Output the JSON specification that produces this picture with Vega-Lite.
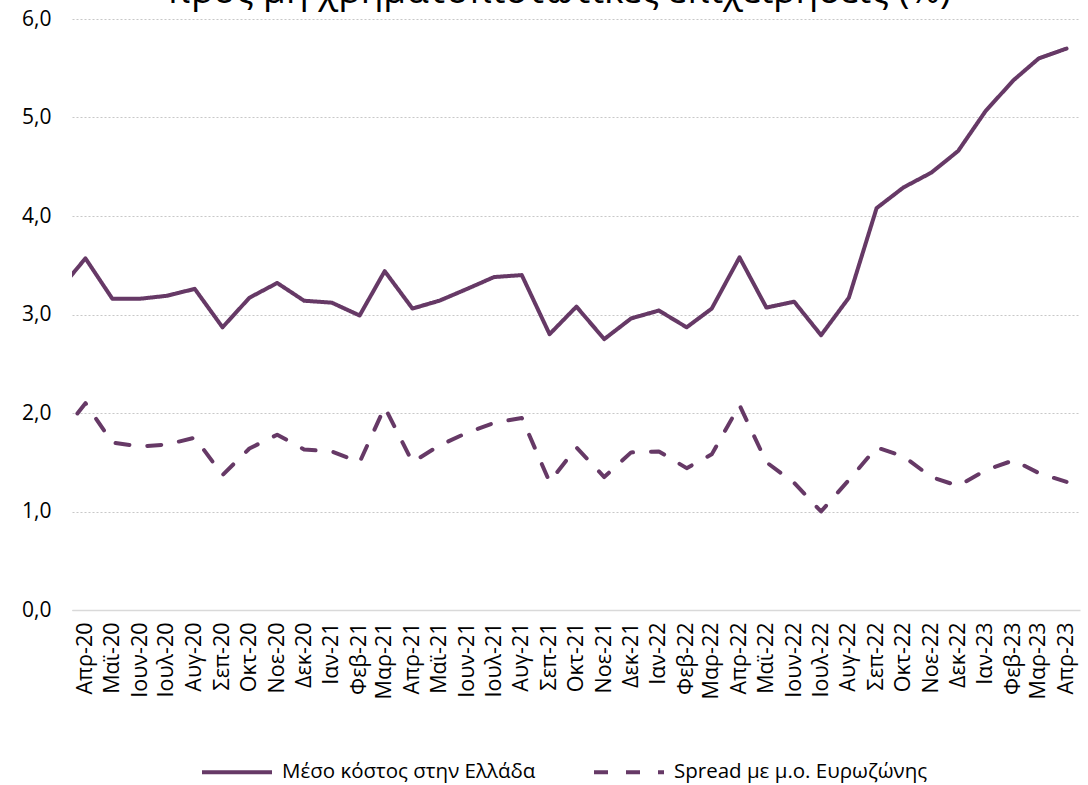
{
  "$schema": "https://vega.github.io/schema/vega-lite/v6.json",
  "autosize": {"type": "none"},
  "width": 1008,
  "height": 591,
  "padding": {"left": 72, "top": 19, "right": 8, "bottom": 175},
  "background": "white",
  "title": {
    "text": "προς μη χρηματοπιστωτικές επιχειρήσεις (%)",
    "fontSize": 37,
    "font": "Open Sans",
    "fontWeight": "normal",
    "color": "#000000",
    "anchor": "middle",
    "frame": "group",
    "baseline": "alphabetic",
    "offset": 2,
    "dx": -17,
    "dy": 34
  },
  "config": {
    "view": {"stroke": null},
    "font": "Open Sans"
  },
  "data": {
    "values": [
      {"date": "2020-03-01", "series": "Μέσο κόστος στην Ελλάδα", "value": 3.23},
      {"date": "2020-04-01", "series": "Μέσο κόστος στην Ελλάδα", "value": 3.57},
      {"date": "2020-05-01", "series": "Μέσο κόστος στην Ελλάδα", "value": 3.16},
      {"date": "2020-06-01", "series": "Μέσο κόστος στην Ελλάδα", "value": 3.16},
      {"date": "2020-07-01", "series": "Μέσο κόστος στην Ελλάδα", "value": 3.19},
      {"date": "2020-08-01", "series": "Μέσο κόστος στην Ελλάδα", "value": 3.26},
      {"date": "2020-09-01", "series": "Μέσο κόστος στην Ελλάδα", "value": 2.87},
      {"date": "2020-10-01", "series": "Μέσο κόστος στην Ελλάδα", "value": 3.17},
      {"date": "2020-11-01", "series": "Μέσο κόστος στην Ελλάδα", "value": 3.32},
      {"date": "2020-12-01", "series": "Μέσο κόστος στην Ελλάδα", "value": 3.14},
      {"date": "2021-01-01", "series": "Μέσο κόστος στην Ελλάδα", "value": 3.12},
      {"date": "2021-02-01", "series": "Μέσο κόστος στην Ελλάδα", "value": 2.99},
      {"date": "2021-03-01", "series": "Μέσο κόστος στην Ελλάδα", "value": 3.44},
      {"date": "2021-04-01", "series": "Μέσο κόστος στην Ελλάδα", "value": 3.06},
      {"date": "2021-05-01", "series": "Μέσο κόστος στην Ελλάδα", "value": 3.14},
      {"date": "2021-06-01", "series": "Μέσο κόστος στην Ελλάδα", "value": 3.26},
      {"date": "2021-07-01", "series": "Μέσο κόστος στην Ελλάδα", "value": 3.38},
      {"date": "2021-08-01", "series": "Μέσο κόστος στην Ελλάδα", "value": 3.40},
      {"date": "2021-09-01", "series": "Μέσο κόστος στην Ελλάδα", "value": 2.80},
      {"date": "2021-10-01", "series": "Μέσο κόστος στην Ελλάδα", "value": 3.08},
      {"date": "2021-11-01", "series": "Μέσο κόστος στην Ελλάδα", "value": 2.75},
      {"date": "2021-12-01", "series": "Μέσο κόστος στην Ελλάδα", "value": 2.96},
      {"date": "2022-01-01", "series": "Μέσο κόστος στην Ελλάδα", "value": 3.04},
      {"date": "2022-02-01", "series": "Μέσο κόστος στην Ελλάδα", "value": 2.87},
      {"date": "2022-03-01", "series": "Μέσο κόστος στην Ελλάδα", "value": 3.06},
      {"date": "2022-04-01", "series": "Μέσο κόστος στην Ελλάδα", "value": 3.58},
      {"date": "2022-05-01", "series": "Μέσο κόστος στην Ελλάδα", "value": 3.07},
      {"date": "2022-06-01", "series": "Μέσο κόστος στην Ελλάδα", "value": 3.13},
      {"date": "2022-07-01", "series": "Μέσο κόστος στην Ελλάδα", "value": 2.79},
      {"date": "2022-08-01", "series": "Μέσο κόστος στην Ελλάδα", "value": 3.17},
      {"date": "2022-09-01", "series": "Μέσο κόστος στην Ελλάδα", "value": 4.08},
      {"date": "2022-10-01", "series": "Μέσο κόστος στην Ελλάδα", "value": 4.29},
      {"date": "2022-11-01", "series": "Μέσο κόστος στην Ελλάδα", "value": 4.44},
      {"date": "2022-12-01", "series": "Μέσο κόστος στην Ελλάδα", "value": 4.66},
      {"date": "2023-01-01", "series": "Μέσο κόστος στην Ελλάδα", "value": 5.07},
      {"date": "2023-02-01", "series": "Μέσο κόστος στην Ελλάδα", "value": 5.38},
      {"date": "2023-03-01", "series": "Μέσο κόστος στην Ελλάδα", "value": 5.60},
      {"date": "2023-04-01", "series": "Μέσο κόστος στην Ελλάδα", "value": 5.70},
      {"date": "2020-03-01", "series": "Spread με μ.ο. Ευρωζώνης", "value": 1.74},
      {"date": "2020-04-01", "series": "Spread με μ.ο. Ευρωζώνης", "value": 2.10},
      {"date": "2020-05-01", "series": "Spread με μ.ο. Ευρωζώνης", "value": 1.70},
      {"date": "2020-06-01", "series": "Spread με μ.ο. Ευρωζώνης", "value": 1.66},
      {"date": "2020-07-01", "series": "Spread με μ.ο. Ευρωζώνης", "value": 1.68},
      {"date": "2020-08-01", "series": "Spread με μ.ο. Ευρωζώνης", "value": 1.75},
      {"date": "2020-09-01", "series": "Spread με μ.ο. Ευρωζώνης", "value": 1.37},
      {"date": "2020-10-01", "series": "Spread με μ.ο. Ευρωζώνης", "value": 1.64},
      {"date": "2020-11-01", "series": "Spread με μ.ο. Ευρωζώνης", "value": 1.78},
      {"date": "2020-12-01", "series": "Spread με μ.ο. Ευρωζώνης", "value": 1.63},
      {"date": "2021-01-01", "series": "Spread με μ.ο. Ευρωζώνης", "value": 1.61},
      {"date": "2021-02-01", "series": "Spread με μ.ο. Ευρωζώνης", "value": 1.50},
      {"date": "2021-03-01", "series": "Spread με μ.ο. Ευρωζώνης", "value": 2.06},
      {"date": "2021-04-01", "series": "Spread με μ.ο. Ευρωζώνης", "value": 1.50},
      {"date": "2021-05-01", "series": "Spread με μ.ο. Ευρωζώνης", "value": 1.67},
      {"date": "2021-06-01", "series": "Spread με μ.ο. Ευρωζώνης", "value": 1.80},
      {"date": "2021-07-01", "series": "Spread με μ.ο. Ευρωζώνης", "value": 1.90},
      {"date": "2021-08-01", "series": "Spread με μ.ο. Ευρωζώνης", "value": 1.95},
      {"date": "2021-09-01", "series": "Spread με μ.ο. Ευρωζώνης", "value": 1.30},
      {"date": "2021-10-01", "series": "Spread με μ.ο. Ευρωζώνης", "value": 1.65},
      {"date": "2021-11-01", "series": "Spread με μ.ο. Ευρωζώνης", "value": 1.35},
      {"date": "2021-12-01", "series": "Spread με μ.ο. Ευρωζώνης", "value": 1.60},
      {"date": "2022-01-01", "series": "Spread με μ.ο. Ευρωζώνης", "value": 1.61},
      {"date": "2022-02-01", "series": "Spread με μ.ο. Ευρωζώνης", "value": 1.44},
      {"date": "2022-03-01", "series": "Spread με μ.ο. Ευρωζώνης", "value": 1.58},
      {"date": "2022-04-01", "series": "Spread με μ.ο. Ευρωζώνης", "value": 2.08},
      {"date": "2022-05-01", "series": "Spread με μ.ο. Ευρωζώνης", "value": 1.50},
      {"date": "2022-06-01", "series": "Spread με μ.ο. Ευρωζώνης", "value": 1.29},
      {"date": "2022-07-01", "series": "Spread με μ.ο. Ευρωζώνης", "value": 1.00},
      {"date": "2022-08-01", "series": "Spread με μ.ο. Ευρωζώνης", "value": 1.32},
      {"date": "2022-09-01", "series": "Spread με μ.ο. Ευρωζώνης", "value": 1.65},
      {"date": "2022-10-01", "series": "Spread με μ.ο. Ευρωζώνης", "value": 1.56},
      {"date": "2022-11-01", "series": "Spread με μ.ο. Ευρωζώνης", "value": 1.35},
      {"date": "2022-12-01", "series": "Spread με μ.ο. Ευρωζώνης", "value": 1.26},
      {"date": "2023-01-01", "series": "Spread με μ.ο. Ευρωζώνης", "value": 1.42},
      {"date": "2023-02-01", "series": "Spread με μ.ο. Ευρωζώνης", "value": 1.52},
      {"date": "2023-03-01", "series": "Spread με μ.ο. Ευρωζώνης", "value": 1.39},
      {"date": "2023-04-01", "series": "Spread με μ.ο. Ευρωζώνης", "value": 1.30}
    ]
  },
  "mark": {"type": "line", "clip": true, "strokeWidth": 4, "strokeCap": "round", "strokeJoin": "round"},
  "encoding": {
    "x": {
      "field": "date",
      "type": "temporal",
      "scale": {
        "type": "utc",
        "nice": false,
        "domain": [
          {"year": 2020, "month": 3, "date": 17, "utc": true},
          {"year": 2023, "month": 4, "date": 16, "utc": true}
        ]
      },
      "axis": {
        "title": null,
        "tickCount": {"interval": "month", "step": 1},
        "ticks": false,
        "grid": false,
        "domain": true,
        "domainColor": "#d9d9d9",
        "domainWidth": 1.5,
        "labelAngle": -90,
        "labelAlign": "right",
        "labelBaseline": "middle",
        "labelPadding": 12,
        "labelFontSize": 21.5,
        "labelColor": "#000000",
        "labelOverlap": false,
        "labelFlush": false,
        "labelBound": false,
        "labelExpr": "['Ιαν','Φεβ','Μαρ','Απρ','Μαϊ','Ιουν','Ιουλ','Αυγ','Σεπ','Οκτ','Νοε','Δεκ'][utcmonth(datum.value)] + '-' + utcFormat(datum.value, '%y')"
      }
    },
    "y": {
      "field": "value",
      "type": "quantitative",
      "scale": {"domain": [0, 6], "nice": false},
      "axis": {
        "title": null,
        "values": [0, 1, 2, 3, 4, 5, 6],
        "ticks": false,
        "domain": false,
        "grid": true,
        "gridColor": "#c8c8c8",
        "gridDash": [2, 2],
        "gridWidth": 1.2,
        "labelPadding": 21,
        "labelFontSize": 21,
        "labelColor": "#000000",
        "labelExpr": "replace(format(datum.value, '.1f'), '.', ',')"
      }
    },
    "color": {
      "field": "series",
      "type": "nominal",
      "scale": {
        "domain": ["Μέσο κόστος στην Ελλάδα", "Spread με μ.ο. Ευρωζώνης"],
        "range": ["#663966", "#663966"]
      },
      "legend": {
        "title": null,
        "orient": "none",
        "direction": "horizontal",
        "legendX": 128,
        "legendY": 716,
        "symbolType": "stroke",
        "symbolSize": 4900,
        "symbolStrokeWidth": 4,
        "labelFontSize": 20.5,
        "labelColor": "#000000",
        "labelOffset": 8,
        "labelLimit": 400,
        "columnPadding": 50
      }
    },
    "strokeDash": {
      "field": "series",
      "type": "nominal",
      "scale": {
        "domain": ["Μέσο κόστος στην Ελλάδα", "Spread με μ.ο. Ευρωζώνης"],
        "range": [[1, 0], [14, 18]]
      },
      "legend": {
        "title": null,
        "orient": "none",
        "direction": "horizontal",
        "legendX": 128,
        "legendY": 716,
        "symbolType": "stroke",
        "symbolSize": 4900,
        "symbolStrokeWidth": 4,
        "labelFontSize": 20.5,
        "labelColor": "#000000",
        "labelOffset": 8,
        "labelLimit": 400,
        "columnPadding": 50
      }
    }
  }
}
